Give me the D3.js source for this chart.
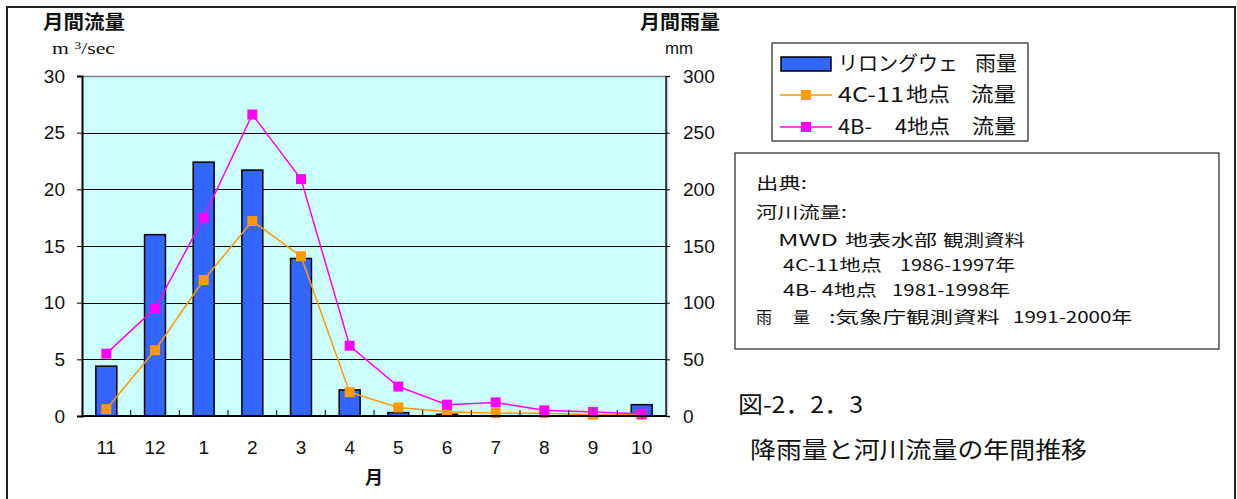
<!DOCTYPE html>
<html>
<head>
<meta charset="utf-8">
<script src="https://cdn.jsdelivr.net/npm/d3@7"></script>
<style>
  html, body { margin: 0; padding: 0; background: #fff; }
  svg { display: block; }
  .jp { font-family: "Noto Sans CJK JP", "Noto Sans", sans-serif; }
  .num { font-family: "Liberation Sans", Arial, sans-serif; }
</style>
</head>
<body>
<svg id="chart" width="1237" height="499"></svg>
<script>
// Months along the hydrological year (Nov -> Oct)
const months = ["11", "12", "1", "2", "3", "4", "5", "6", "7", "8", "9", "10"];
// Lilongwe monthly rainfall (mm)
const rainfall = [44, 160, 224, 217, 139, 23, 3, 1.5, 0, 0, 0, 10];
// Monthly river flow at station 4C-11 (m3/sec)
const flow4C11 = [0.6, 5.8, 12.0, 17.2, 14.1, 2.1, 0.75, 0.38, 0.25, 0.25, 0.12, 0.1];
// Monthly river flow at station 4B-4 (m3/sec)
const flow4B4 = [5.5, 9.5, 17.5, 26.6, 20.9, 6.2, 2.6, 1.0, 1.2, 0.5, 0.35, 0.2];
// Axis ticks
const flowTicks = [0, 5, 10, 15, 20, 25, 30];
const rainTicks = [0, 50, 100, 150, 200, 250, 300];

const svg = d3.select("#chart");

// text helper: place a string and fit it to a given width
function label(txt, x, y, size, width, opts = {}) {
  const t = svg.append("text")
    .attr("class", opts.cls || "jp")
    .attr("x", x).attr("y", y)
    .attr("dy", "0.36em")
    .attr("font-size", size)
    .attr("fill", "#111")
    .style("white-space", "pre")
    .text(txt);
  if (opts.weight) t.attr("font-weight", opts.weight);
  if (opts.anchor) t.attr("text-anchor", opts.anchor);
  if (width) t.attr("textLength", width).attr("lengthAdjust", "spacingAndGlyphs");
  return t;
}
// a line of text made of separately placed pieces: [text, x0, x1]
function pieces(parts, y, size) {
  parts.forEach(([t, x0, x1]) => label(t, x0, y, size, x1 - x0));
}

// outer frame
svg.append("rect")
  .attr("x", 7).attr("y", 7).attr("width", 1228).attr("height", 530)
  .attr("fill", "none").attr("stroke", "#222").attr("stroke-width", 2);

const plot = { left: 82, right: 666, top: 76, bottom: 416 };

const x = d3.scaleBand().domain(months).range([plot.left, plot.right]);
const yFlow = d3.scaleLinear().domain([0, 30]).range([plot.bottom, plot.top]);
const yRain = d3.scaleLinear().domain([0, 300]).range([plot.bottom, plot.top]);

// plot background
svg.append("rect")
  .attr("x", plot.left).attr("y", plot.top)
  .attr("width", plot.right - plot.left).attr("height", plot.bottom - plot.top)
  .attr("fill", "#CCFFFF");

// horizontal gridlines
svg.append("g").selectAll("line")
  .data(flowTicks.filter(t => t > 0 && t < 30))
  .join("line")
  .attr("x1", plot.left).attr("x2", plot.right)
  .attr("y1", d => Math.round(yFlow(d)) + 0.5).attr("y2", d => Math.round(yFlow(d)) + 0.5)
  .attr("stroke", "#000").attr("stroke-width", 1);

// top and right edges of the plot area
svg.append("line")
  .attr("x1", plot.left).attr("x2", plot.right)
  .attr("y1", plot.top + 0.5).attr("y2", plot.top + 0.5)
  .attr("stroke", "#808080").attr("stroke-width", 1.5);
svg.append("line")
  .attr("x1", plot.right).attr("x2", plot.right)
  .attr("y1", plot.top).attr("y2", plot.bottom)
  .attr("stroke", "#333").attr("stroke-width", 1.5);

// rainfall bars
const barW = x.bandwidth() * 0.43;
svg.append("g").selectAll("rect")
  .data(months.map((m, i) => ({ m, v: rainfall[i] })).filter(d => d.v > 0))
  .join("rect")
  .attr("x", d => x(d.m) + (x.bandwidth() - barW) / 2)
  .attr("y", d => yRain(d.v))
  .attr("width", barW)
  .attr("height", d => plot.bottom - yRain(d.v))
  .attr("fill", "#3366FF")
  .attr("stroke", "#000").attr("stroke-width", 1.5);

// flow lines with square markers
function drawSeries(values, color) {
  const pts = months.map((m, i) => [x(m) + x.bandwidth() / 2, yFlow(values[i])]);
  svg.append("path")
    .attr("d", d3.line()(pts))
    .attr("fill", "none").attr("stroke", color).attr("stroke-width", 1.5);
  svg.append("g").selectAll("rect")
    .data(pts).join("rect")
    .attr("x", d => d[0] - 5).attr("y", d => d[1] - 5)
    .attr("width", 10).attr("height", 10)
    .attr("fill", color);
}
drawSeries(flow4C11, "#FF9900");
drawSeries(flow4B4, "#FF00FF");

// left axis
const leftAxis = svg.append("g")
  .attr("transform", `translate(${plot.left},0)`)
  .call(d3.axisLeft(yFlow).tickValues(flowTicks).tickSize(5).tickPadding(12));
leftAxis.select(".domain").attr("stroke", "#000").attr("stroke-width", 2);
leftAxis.selectAll("text").attr("class", "num").attr("font-size", 19).attr("fill", "#111");

// right axis
const rightAxis = svg.append("g")
  .attr("transform", `translate(${plot.right},0)`)
  .call(d3.axisRight(yRain).tickValues(rainTicks).tickSize(4).tickPadding(13));
rightAxis.select(".domain").attr("stroke", "#333").attr("stroke-width", 1.5);
rightAxis.selectAll("text").attr("class", "num").attr("font-size", 19).attr("fill", "#111");

// bottom axis: ticks at category boundaries pointing into the plot
svg.append("line")
  .attr("x1", plot.left - 1).attr("x2", plot.right)
  .attr("y1", plot.bottom).attr("y2", plot.bottom)
  .attr("stroke", "#000").attr("stroke-width", 2);
svg.append("g").selectAll("line")
  .data(months.slice(1))
  .join("line")
  .attr("x1", d => x(d)).attr("x2", d => x(d))
  .attr("y1", plot.bottom).attr("y2", plot.bottom - 6)
  .attr("stroke", "#000").attr("stroke-width", 1);
svg.append("g").selectAll("text")
  .data(months)
  .join("text")
  .attr("class", "num")
  .attr("x", d => x(d) + x.bandwidth() / 2)
  .attr("y", 447)
  .attr("dy", "0.36em")
  .attr("text-anchor", "middle")
  .attr("font-size", 19).attr("fill", "#111")
  .text(d => d);

// axis titles
label("月間流量", 43, 22, 19, 82, { weight: "bold" });
const unitL = svg.append("text").attr("x", 52).attr("y", 54)
  .attr("font-family", "Liberation Serif, serif").attr("font-size", 17).attr("fill", "#111")
  .attr("textLength", 63).attr("lengthAdjust", "spacingAndGlyphs");
unitL.append("tspan").text("m ");
unitL.append("tspan").attr("font-size", 11).attr("dy", -5).text("3");
unitL.append("tspan").attr("dy", 5).text("/sec");

label("月間雨量", 640, 22, 19, 80, { weight: "bold" });
label("mm", 665, 48, 16, 28, { cls: "num" });

label("月", 374, 478, 18, null, { anchor: "middle", weight: "bold" });

// legend
svg.append("rect").attr("x", 772).attr("y", 43).attr("width", 256).attr("height", 98)
  .attr("fill", "#fff").attr("stroke", "#222").attr("stroke-width", 1.2);
svg.append("rect").attr("x", 781).attr("y", 57).attr("width", 50).attr("height", 14)
  .attr("fill", "#3366FF").attr("stroke", "#000").attr("stroke-width", 1.5);
const legItems = [
  { y: 64, parts: [["リロングウェ", 838, 958], ["雨量", 975, 1017]] },
  { y: 95, color: "#FF9900", parts: [["4C-11", 838, 904], ["地点", 906, 950], ["流量", 971, 1016]] },
  { y: 127, color: "#FF00FF", parts: [["4B-", 838, 872], ["4地点", 895, 950], ["流量", 972, 1016]] }
];
legItems.forEach(it => {
  if (it.color) {
    svg.append("line").attr("x1", 780).attr("x2", 832).attr("y1", it.y).attr("y2", it.y)
      .attr("stroke", it.color).attr("stroke-width", 1.5);
    svg.append("rect").attr("x", 801).attr("y", it.y - 5).attr("width", 10).attr("height", 10)
      .attr("fill", it.color);
  }
  pieces(it.parts, it.y, 20);
});

// source note
svg.append("rect").attr("x", 735).attr("y", 153).attr("width", 484).attr("height", 196)
  .attr("fill", "#fff").attr("stroke", "#222").attr("stroke-width", 1.2);
const noteLines = [
  { y: 183, parts: [["出典:", 756, 807]] },
  { y: 212, parts: [["河川流量:", 756, 847]] },
  { y: 240, parts: [["MWD", 778, 838], ["地表水部", 845, 937], ["観測資料", 943, 1025]] },
  { y: 265, parts: [["4C-11地点", 783, 882], ["1986-1997年", 900, 1015]] },
  { y: 290, parts: [["4B- 4地点", 783, 877], ["1981-1998年", 892, 1010]] },
  { y: 317, parts: [["雨", 756, 772], ["量", 793, 810], [":気象庁観測資料", 829, 1000], ["1991-2000年", 1013, 1132]] }
];
noteLines.forEach(l => pieces(l.parts, l.y, 16));

// figure caption
label("図-2．2．3", 738, 405, 23, 125);
label("降雨量と河川流量の年間推移", 750, 450, 23, 337);
</script>
</body>
</html>
